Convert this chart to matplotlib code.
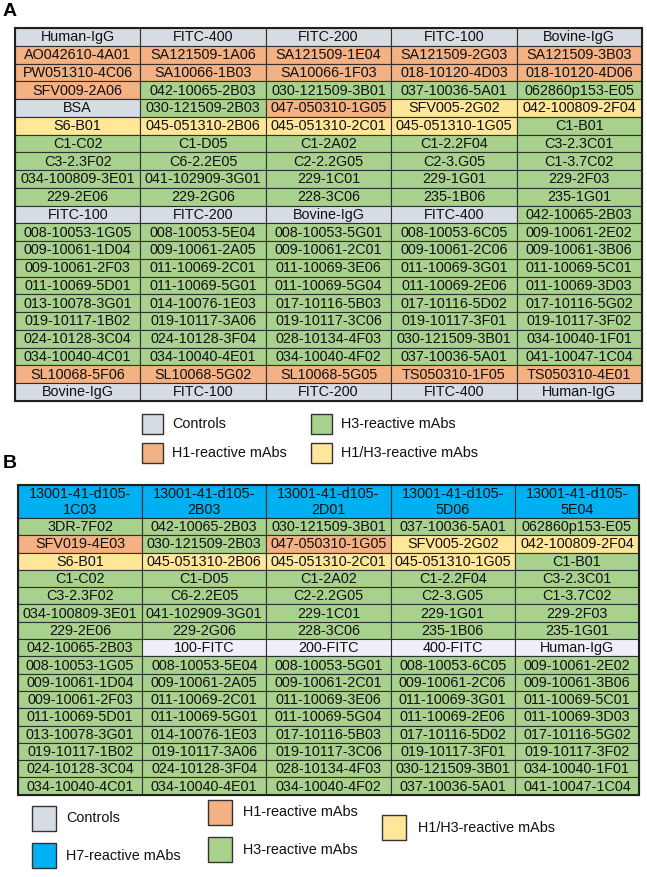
import matplotlib
matplotlib.use("Agg")
import matplotlib.pyplot as plt
from matplotlib.patches import Rectangle

plt.rcParams['font.family'] = ['Liberation Sans', 'DejaVu Sans']

# category codes: C = control, H1, H3, Y = H1/H3, H7
colors = {
    'C': '#D6DCE4',
    'CL': '#EEEFF7',
    'H1': '#F4B183',
    'H3': '#A9D18E',
    'Y': '#FFE699',
    'H7': '#00B0F0',
}

shared_rows = [
    ["008-10053-1G05", "008-10053-5E04", "008-10053-5G01", "008-10053-6C05", "009-10061-2E02"],
    ["009-10061-1D04", "009-10061-2A05", "009-10061-2C01", "009-10061-2C06", "009-10061-3B06"],
    ["009-10061-2F03", "011-10069-2C01", "011-10069-3E06", "011-10069-3G01", "011-10069-5C01"],
    ["011-10069-5D01", "011-10069-5G01", "011-10069-5G04", "011-10069-2E06", "011-10069-3D03"],
    ["013-10078-3G01", "014-10076-1E03", "017-10116-5B03", "017-10116-5D02", "017-10116-5G02"],
    ["019-10117-1B02", "019-10117-3A06", "019-10117-3C06", "019-10117-3F01", "019-10117-3F02"],
    ["024-10128-3C04", "024-10128-3F04", "028-10134-4F03", "030-121509-3B01", "034-10040-1F01"],
    ["034-10040-4C01", "034-10040-4E01", "034-10040-4F02", "037-10036-5A01", "041-10047-1C04"],
]

c_rows = [
    ["C1-C02", "C1-D05", "C1-2A02", "C1-2.2F04", "C3-2.3C01"],
    ["C3-2.3F02", "C6-2.2E05", "C2-2.2G05", "C2-3.G05", "C1-3.7C02"],
    ["034-100809-3E01", "041-102909-3G01", "229-1C01", "229-1G01", "229-2F03"],
    ["229-2E06", "229-2G06", "228-3C06", "235-1B06", "235-1G01"],
]

labels_a = [
    ["Human-IgG", "FITC-400", "FITC-200", "FITC-100", "Bovine-IgG"],
    ["AO042610-4A01", "SA121509-1A06", "SA121509-1E04", "SA121509-2G03", "SA121509-3B03"],
    ["PW051310-4C06", "SA10066-1B03", "SA10066-1F03", "018-10120-4D03", "018-10120-4D06"],
    ["SFV009-2A06", "042-10065-2B03", "030-121509-3B01", "037-10036-5A01", "062860p153-E05"],
    ["BSA", "030-121509-2B03", "047-050310-1G05", "SFV005-2G02", "042-100809-2F04"],
    ["S6-B01", "045-051310-2B06", "045-051310-2C01", "045-051310-1G05", "C1-B01"],
] + c_rows + [
    ["FITC-100", "FITC-200", "Bovine-IgG", "FITC-400", "042-10065-2B03"],
] + shared_rows + [
    ["SL10068-5F06", "SL10068-5G02", "SL10068-5G05", "TS050310-1F05", "TS050310-4E01"],
    ["Bovine-IgG", "FITC-100", "FITC-200", "FITC-400", "Human-IgG"],
]

cats_a = [
    ["C"] * 5,
    ["H1"] * 5,
    ["H1"] * 5,
    ["H1", "H3", "H3", "H3", "H3"],
    ["C", "H3", "H1", "Y", "Y"],
    ["Y", "Y", "Y", "Y", "H3"],
] + [["H3"] * 5] * 4 + [
    ["C", "C", "C", "C", "H3"],
] + [["H3"] * 5] * 8 + [
    ["H1"] * 5,
    ["C"] * 5,
]

header_b = ["13001-41-d105-\n1C03", "13001-41-d105-\n2B03", "13001-41-d105-\n2D01",
            "13001-41-d105-\n5D06", "13001-41-d105-\n5E04"]

labels_b = [
    ["3DR-7F02", "042-10065-2B03", "030-121509-3B01", "037-10036-5A01", "062860p153-E05"],
    ["SFV019-4E03", "030-121509-2B03", "047-050310-1G05", "SFV005-2G02", "042-100809-2F04"],
    ["S6-B01", "045-051310-2B06", "045-051310-2C01", "045-051310-1G05", "C1-B01"],
] + c_rows + [
    ["042-10065-2B03", "100-FITC", "200-FITC", "400-FITC", "Human-IgG"],
] + shared_rows

cats_b = [
    ["H3"] * 5,
    ["H1", "H3", "H1", "Y", "Y"],
    ["Y", "Y", "Y", "Y", "H3"],
] + [["H3"] * 5] * 4 + [
    ["H3", "CL", "CL", "CL", "CL"],
] + [["H3"] * 5] * 8

legend_a = [("C", "Controls"), ("H3", "H3-reactive mAbs"),
            ("H1", "H1-reactive mAbs"), ("Y", "H1/H3-reactive mAbs")]
legend_b = [("C", "Controls"), ("H7", "H7-reactive mAbs"), ("H1", "H1-reactive mAbs"),
            ("H3", "H3-reactive mAbs"), ("Y", "H1/H3-reactive mAbs")]

W, H = 647, 877
fig = plt.figure(figsize=(W / 100, H / 100), dpi=100)
ax = fig.add_axes([0, 0, 1, 1])
ax.set_xlim(0, W)
ax.set_ylim(H, 0)
ax.axis('off')

FS = 10.4


def draw_table(x0, y0, width, row_h, rows, cats, header=None, header_h=0):
    ncol = 5
    cw = width / ncol
    y = y0
    all_rows = []
    if header is not None:
        all_rows.append((header, ["H7"] * ncol, header_h))
    for r, c in zip(rows, cats):
        all_rows.append((r, c, row_h))
    for labs, cs, h in all_rows:
        for j in range(ncol):
            ax.add_patch(Rectangle((x0 + j * cw, y), cw, h, facecolor=colors[cs[j]],
                                   edgecolor='#303030', linewidth=0.8))
            ax.text(x0 + (j + 0.5) * cw, y + h / 2 + 0.5, labs[j], ha='center', va='center',
                    fontsize=FS, color='#111111', linespacing=1.15)
        y += h
    ax.add_patch(Rectangle((x0, y0), width, y - y0, fill=False,
                           edgecolor='#202020', linewidth=1.5))


def legend_box(x, y, w, h, cat, text, tx):
    ax.add_patch(Rectangle((x, y), w, h, facecolor=colors[cat], edgecolor='#333333', linewidth=1.0))
    ax.text(tx, y + h / 2, text, ha='left', va='center', fontsize=FS, color='#111111')


# panel A
ax.text(3, 11, "A", fontsize=14, fontweight='bold', va='center', ha='left')
draw_table(15, 28, 627, 17.75, labels_a, cats_a)

pos_a = [(142, 414, 172), (311, 414, 341), (142, 443, 172), (311, 443, 341)]
for (cat, txt), (x, y, tx) in zip(legend_a, pos_a):
    legend_box(x, y, 21, 20, cat, txt, tx)

# panel B
ax.text(3, 463, "B", fontsize=14, fontweight='bold', va='center', ha='left')
draw_table(18, 485, 621, 17.3, labels_b, cats_b, header=header_b, header_h=33)

pos_b = [(32, 806, 66), (32, 843, 66), (208, 800, 243), (208, 837, 243), (382, 815, 418)]
for (cat, txt), (x, y, tx) in zip(legend_b, pos_b):
    legend_box(x, y, 24, 25, cat, txt, tx)

fig.savefig("out.png", dpi=100)
